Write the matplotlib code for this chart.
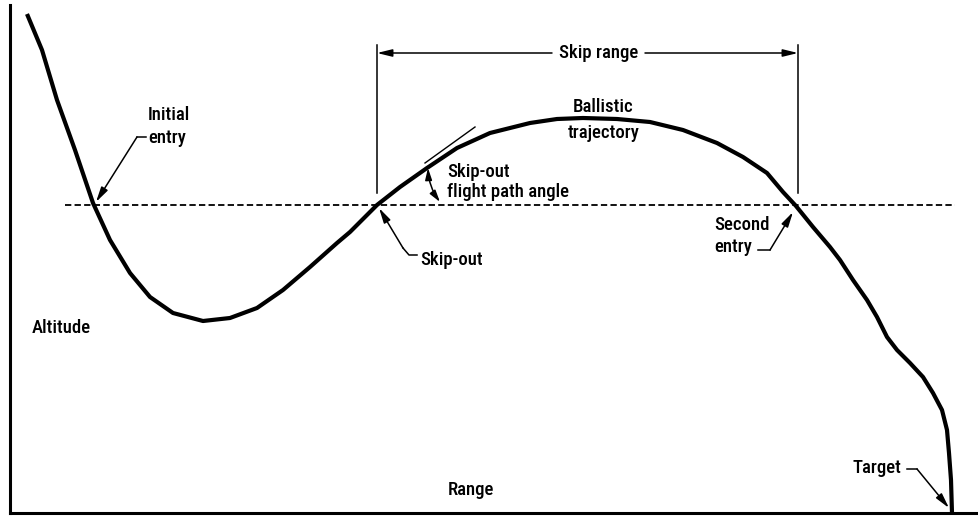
#!/usr/bin/env python3
"""Skip-entry trajectory schematic: altitude vs range with skip-out / second entry."""
import matplotlib
matplotlib.use("Agg")
import matplotlib.pyplot as plt

# trajectory (arbitrary range / altitude units)
range_pts = [27, 42, 57, 75, 93, 110, 130, 150, 173, 203, 230, 257, 283, 310, 337, 350,
             377, 400, 427, 457, 490, 530, 557, 583, 617, 650, 683, 717, 743, 767, 783,
             796, 813, 830, 840, 853, 867, 877, 887, 897, 910, 923, 933, 942, 947, 949,
             951, 952]
alt_pts = [499, 463, 413, 363, 310, 273, 240, 216, 200, 192, 195, 205, 223, 246, 270, 281,
           308, 326, 345, 365, 380, 390, 394, 395, 394, 391, 383, 370, 356, 340, 321,
           307, 286, 266, 253, 233, 213, 196, 176, 163, 150, 136, 120, 103, 83, 60,
           33, 0]
entry_alt = 308            # atmosphere interface (dashed)
entry_span = [65, 955]
skip_out_x, second_entry_x = 377, 798
initial_entry_x = 95

FONT = dict(family=["Roboto Condensed", "Liberation Sans Narrow", "Roboto", "DejaVu Sans"],
            fontsize=13.5, fontweight="medium", color="black")

fig = plt.figure(figsize=(9.79, 5.17), dpi=100)
ax = fig.add_axes([10 / 979, 4 / 517, 969 / 979, 508 / 517])
ax.set_xlim(10, 979)
ax.set_ylim(0, 508)
for s in ("top", "right"):
    ax.spines[s].set_visible(False)
for s in ("left", "bottom"):
    ax.spines[s].set_linewidth(2.2)
ax.set_xticks([]); ax.set_yticks([])

ax.plot(range_pts, alt_pts, color="black", lw=3.0, solid_joinstyle="round", solid_capstyle="butt")
ax.plot(entry_span, [entry_alt, entry_alt], color="black", lw=1.3, dashes=(3.5, 1.8))

# skip range dimension
for xv in (skip_out_x, second_entry_x):
    ax.plot([xv, xv], [320, 468], color="black", lw=1.1)
arr = dict(arrowstyle="-|>,head_length=0.9,head_width=0.22", color="black", lw=1.1,
           shrinkA=0, shrinkB=0)
ax.annotate("", xy=(skip_out_x, 460), xytext=(552, 460), arrowprops=arr)
ax.annotate("", xy=(second_entry_x, 460), xytext=(645, 460), arrowprops=arr)
ax.text(599, 460, "Skip range", ha="center", va="center", **FONT)

# tangent + flight path angle
ax.plot([425, 475], [350, 386], color="black", lw=1.0)
ax.annotate("", xy=(428, 345), xytext=(440, 311),
            arrowprops=dict(arrowstyle="<|-|>,head_length=0.7,head_width=0.2", color="black",
                            lw=1.1, shrinkA=0, shrinkB=0, connectionstyle="arc3,rad=-0.15"))
ax.text(447, 341, "Skip-out", ha="left", va="center", **FONT)
ax.text(447, 321, "flight path angle", ha="left", va="center", **FONT)

ax.text(603, 406, "Ballistic", ha="center", va="center", **FONT)
ax.text(604, 380, "trajectory", ha="center", va="center", **FONT)

# leaders
lead = dict(arrowstyle="-|>,head_length=0.9,head_width=0.22", color="black", lw=1.1,
            shrinkA=0, shrinkB=0)
ax.text(148, 398, "Initial", ha="left", va="center", **FONT)
ax.text(148, 375, "entry", ha="left", va="center", **FONT)
ax.plot([137, 146], [376, 376], color="black", lw=1.1)
ax.annotate("", xy=(initial_entry_x + 1, 311), xytext=(137, 376), arrowprops=lead)

ax.text(420, 253, "Skip-out", ha="left", va="center", **FONT)
ax.plot([403, 409, 417], [265, 258, 258], color="black", lw=1.1)
ax.annotate("", xy=(skip_out_x + 2, 305), xytext=(403, 265), arrowprops=lead)

ax.text(714, 288, "Second", ha="left", va="center", **FONT)
ax.text(714, 266, "entry", ha="left", va="center", **FONT)
ax.plot([758, 770], [263, 263], color="black", lw=1.1)
ax.annotate("", xy=(second_entry_x - 5, 301), xytext=(770, 263), arrowprops=lead)

ax.text(853, 45, "Target", ha="left", va="center", **FONT)
ax.plot([907, 917], [44, 44], color="black", lw=1.1)
ax.annotate("", xy=(949, 5), xytext=(917, 44), arrowprops=lead)

ax.text(32, 185, "Altitude", ha="left", va="center", **FONT)
ax.text(448, 23, "Range", ha="left", va="center", **FONT)

fig.savefig("out.png", dpi=100)
